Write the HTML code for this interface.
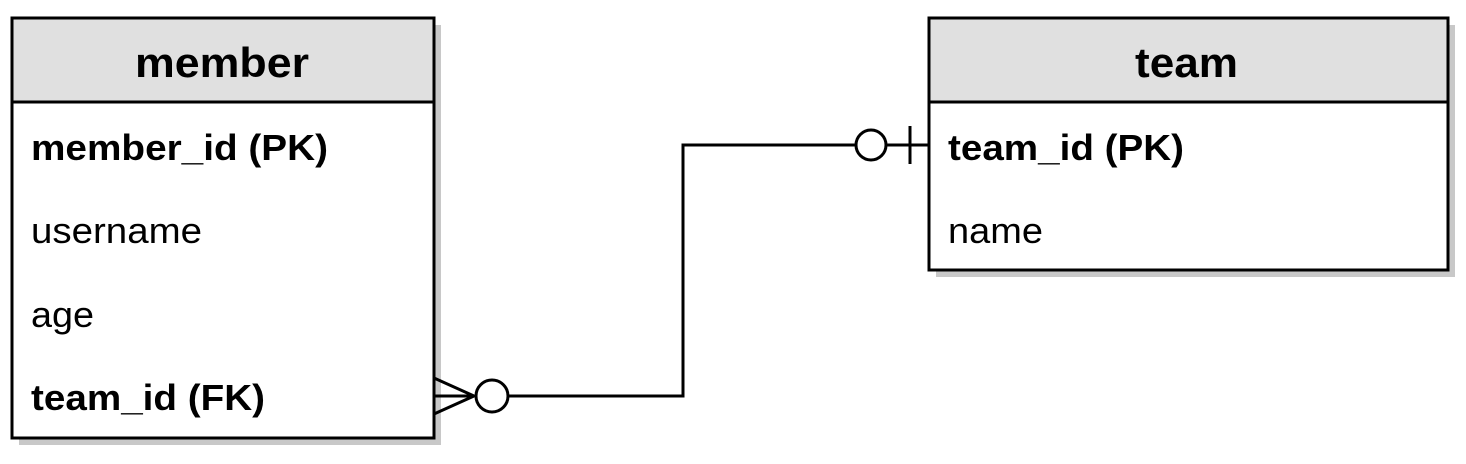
<!DOCTYPE html>
<html><head><style>
html,body{margin:0;padding:0;background:#fff;}
svg{display:block;font-family:"Liberation Sans",Arial,sans-serif;}
</style></head><body>
<svg width="1466" height="464" viewBox="0 0 1466 464">
<rect x="19" y="25" width="422" height="420" fill="#c8c8c8"/>
<rect x="936" y="25" width="519" height="252" fill="#c8c8c8"/>
<rect x="12" y="18" width="422" height="420" fill="#fff" stroke="#000" stroke-width="3"/>
<rect x="12" y="18" width="422" height="84" fill="#e0e0e0" stroke="#000" stroke-width="3"/>
<rect x="929" y="18" width="519" height="252" fill="#fff" stroke="#000" stroke-width="3"/>
<rect x="929" y="18" width="519" height="84" fill="#e0e0e0" stroke="#000" stroke-width="3"/>
<text x="135" y="77" font-size="42" font-weight="bold" textLength="174" lengthAdjust="spacingAndGlyphs">member</text>
<text x="1135" y="77" font-size="42" font-weight="bold" textLength="103" lengthAdjust="spacingAndGlyphs">team</text>
<g font-size="36">
<text x="31" y="160" font-weight="bold" textLength="297" lengthAdjust="spacingAndGlyphs">member_id (PK)</text>
<text x="31" y="243" textLength="171" lengthAdjust="spacingAndGlyphs">username</text>
<text x="31" y="327" textLength="63" lengthAdjust="spacingAndGlyphs">age</text>
<text x="31" y="410" font-weight="bold" textLength="234" lengthAdjust="spacingAndGlyphs">team_id (FK)</text>
<text x="948" y="160" font-weight="bold" textLength="236" lengthAdjust="spacingAndGlyphs">team_id (PK)</text>
<text x="948" y="243" textLength="95" lengthAdjust="spacingAndGlyphs">name</text>
</g>
<g fill="none" stroke="#000" stroke-width="3">
<path d="M434 378 L474 396 L434 414 M434 396 L474 396"/>
<circle cx="492" cy="396" r="16" fill="#fff"/>
<path d="M508 396 H683 V145 H856"/>
<circle cx="871" cy="145" r="15" fill="#fff"/>
<path d="M886 145 H929 M910 126 V164"/>
</g>
</svg>
</body></html>
